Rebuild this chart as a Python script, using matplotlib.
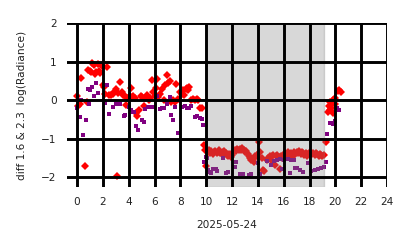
import matplotlib
matplotlib.use('Agg')
import matplotlib.pyplot as plt

# hours (UTC) and values
red_h = [0.0, 0.05, 0.2, 0.33, 0.62, 0.75, 0.88, 1.0, 1.1, 1.15, 1.3, 1.4, 1.5, 1.6, 1.7, 1.8,
         1.9, 2.0, 2.1, 2.2, 2.35, 2.45, 2.6, 2.75, 2.9, 3.0, 3.13, 3.2, 3.33, 3.45, 3.55, 3.7,
         3.8, 3.9, 4.0, 4.1, 4.2, 4.3, 4.45, 4.55, 4.65, 4.8, 4.95, 5.05, 5.2, 5.3, 5.45, 5.55,
         5.65, 5.8, 5.9, 6.0, 6.1, 6.2, 6.3, 6.45, 6.55, 6.7, 6.8, 6.95, 7.05, 7.2, 7.3, 7.4,
         7.55, 7.7, 7.85, 8.0, 8.1, 8.2, 8.3, 8.4, 8.5, 8.6, 8.7, 8.8, 8.95, 9.1, 9.25, 9.4,
         9.55, 9.7, 9.8, 9.9, 10.0,
         10.1, 10.2, 10.3, 10.4, 10.5, 10.6, 10.7, 10.8, 10.9, 11.0, 11.1, 11.2, 11.3, 11.4,
         11.5, 11.6, 11.7, 11.8, 11.9, 12.0, 12.1, 12.2, 12.3, 12.4, 12.5, 12.6, 12.7, 12.8,
         12.9, 13.0, 13.1, 13.2, 13.3, 13.4, 13.5, 13.6, 13.7, 13.8, 13.9, 14.0, 14.1, 14.2,
         14.3, 14.4, 14.5, 14.7, 14.8, 14.9, 15.0, 15.1, 15.2, 15.3, 15.4, 15.5, 15.6, 15.7,
         15.8, 15.9, 16.0, 16.1, 16.2, 16.3, 16.4, 16.5, 16.6, 16.7, 16.8, 16.9, 17.0, 17.1,
         17.2, 17.3, 17.4, 17.5, 17.6, 17.7, 17.8, 17.9, 18.0, 18.1, 18.2, 18.3, 18.4, 18.5,
         18.6, 18.7, 18.8, 18.9, 19.0, 19.1, 19.3,
         19.45, 19.5, 19.55, 19.6, 19.65, 19.7, 19.8, 19.85, 19.95, 20.0, 20.2, 20.3, 20.4]
red_v = [0.1, -0.15, -0.1, 0.56, -1.71, -0.05, 0.78, 0.75, 0.72, 0.95, 0.9, 0.68, 0.72, 0.93,
         0.75, 0.7, 0.88, 0.4, 0.35, 0.15, 0.87, 0.12, 0.12, 0.15, 0.22, 0.28, -1.97, 0.18, 0.47,
         0.2, 0.12, 0.1, -0.12, 0.05, 0.02, 0.1, 0.3, 0.1, 0.05, -0.35, -0.42, -0.25, 0.1, 0.08,
         -0.15, 0.05, 0.12, 0.0, 0.05, 0.52, 0.2, 0.1, 0.3, 0.55, 0.08, 0.15, 0.28, 0.0, 0.4,
         0.65, 0.45, 0.5, -0.05, 0.0, -0.05, 0.42, 0.02, 0.2, 0.15, 0.25, 0.12, 0.28, 0.32, 0.25,
         0.35, 0.0, 0.02, 0.0, 0.02, 0.0, -0.2, -0.2, -1.18, -1.3, -1.72,
         -1.35, -1.3, -1.38, -1.33, -1.4, -1.36, -1.33, -1.38, -1.35, -1.3, -1.37, -1.4, -1.35,
         -1.32, -1.38, -1.42, -1.45, -1.4, -1.48, -1.42, -1.35, -1.3, -1.32, -1.28, -1.3, -1.27,
         -1.3, -1.25, -1.3, -1.35, -1.33, -1.4, -1.45, -1.5, -1.55, -1.52, -1.6, -1.45, -1.42,
         -1.48, -1.1, -1.35, -1.5, -1.82, -1.85, -1.55, -1.5, -1.45, -1.55, -1.45, -1.42, -1.7,
         -1.45, -1.42, -1.48, -1.8, -1.45, -1.5, -1.42, -1.38, -1.4, -1.35, -1.45, -1.4, -1.38,
         -1.45, -1.35, -1.4, -1.35, -1.38, -1.33, -1.4, -1.35, -1.38, -1.42, -1.38, -1.45, -1.4,
         -1.35, -1.38, -1.4, -1.37, -1.42, -1.38, -1.4, -1.45, -1.4, -1.42, -1.45, -1.42, -1.1,
         -0.3, -0.15, -0.25, -0.05, -0.2, -0.1, 0.0, -0.35, 0.05, -0.1, 0.23, 0.25, 0.22]

purple_h = [0.03, 0.2, 0.3, 0.5, 0.7, 0.85, 0.93, 1.0, 1.15, 1.3, 1.5, 1.6, 2.17, 2.3, 2.5,
            2.8, 3.0, 3.3, 3.6, 3.75, 4.05, 4.2, 4.3, 4.4, 4.6, 4.75, 5.0, 5.15, 5.3, 5.5, 5.7,
            5.9, 6.2, 6.4, 6.6, 6.75, 7.0, 7.2, 7.3, 7.45, 7.6, 7.8, 8.1, 8.35, 8.5, 8.65, 8.8,
            9.1, 9.3, 9.5, 9.65, 9.75, 9.85, 9.95,
            10.0, 10.05, 10.1, 10.3, 10.4, 10.55, 10.75, 10.85, 11.3, 11.55, 11.65, 12.2, 12.3,
            12.6, 12.85, 13.3, 13.5, 14.0, 14.2, 14.7, 15.05, 15.25, 15.45, 15.7, 15.85, 16.05,
            16.3, 16.5, 16.55, 16.8, 16.85, 17.0, 17.25, 17.5, 17.9, 18.1, 18.4, 18.65, 18.9,
            19.1, 19.3,
            19.35, 19.6, 19.75, 19.85, 20.0, 20.1, 20.3]
purple_v = [-0.21, -0.44, 0.0, -0.91, -0.51, 0.28, -0.1, 0.26, 0.33, 0.1, 0.43, 0.19, -0.08,
            0.38, -0.37, -0.17, -0.1, -0.1, -0.42, -0.38, -0.19, -0.25, -0.3, -0.3, -0.67, -0.79,
            -0.53, -0.56, -0.24, -0.17, -0.17, -0.17, 0.1, -0.24, -0.2, -0.2, -0.1, 0.08, -0.4,
            -0.51, -0.17, -0.85, -0.17, -0.15, -0.2, -0.2, -0.15, -0.45, -0.42, -0.48, -0.5,
            -0.66, -1.6, -1.49,
            -1.6, -1.5, -1.82, -1.88, -1.9, -1.78, -1.78, -1.85, -1.5, -1.9, -1.88, -1.75, -1.61,
            -1.93, -1.92, -1.94, -1.93, -1.63, -1.93, -1.58, -1.68, -1.58, -1.55, -1.54, -1.78,
            -1.55, -1.54, -1.9, -1.55, -1.55, -1.77, -1.76, -1.82, -1.87, -1.63, -1.85, -1.83,
            -1.8, -1.77, -1.73, -1.6,
            -0.89, -0.6, -0.6, -0.62, -0.55, -0.22, -0.27]

night_start, night_end = 10.0, 19.15

fig = plt.figure(figsize=(4.14, 2.48), dpi=100)
ax = fig.add_axes([0.162, 0.246, 0.773, 0.661])

ax.plot(red_h, red_v, 'D', color='red', markersize=4, markeredgewidth=0, zorder=2)
ax.plot(purple_h, purple_v, 's', color='purple', markersize=3.2, markeredgewidth=0, zorder=2)
ax.axvspan(night_start, night_end, color='gray', alpha=0.3, lw=1, zorder=2.5)

ax.set_xlim(-0.77, 24)
ax.set_ylim(-2.26, 2)
ax.set_xticks(range(0, 25, 2))
ax.set_yticks([-2, -1, 0, 1, 2])
ax.set_yticklabels(['\u22122', '\u22121', '0', '1', '2'])
ax.grid(True, color='black', linewidth=2.1, zorder=3)
ax.set_axisbelow(False)
for s in ax.spines.values():
    s.set_visible(False)
ax.tick_params(axis='both', length=0, pad=7.5, labelsize=7.6, labelcolor='#222222')
ax.set_xlabel('2025-05-24', fontsize=7.6, color='#222222', labelpad=9)
ax.set_ylabel('diff 1.6 & 2.3  log(Radiance)', fontsize=7.6, color='#222222', labelpad=10)

fig.savefig('out.png', dpi=100)
